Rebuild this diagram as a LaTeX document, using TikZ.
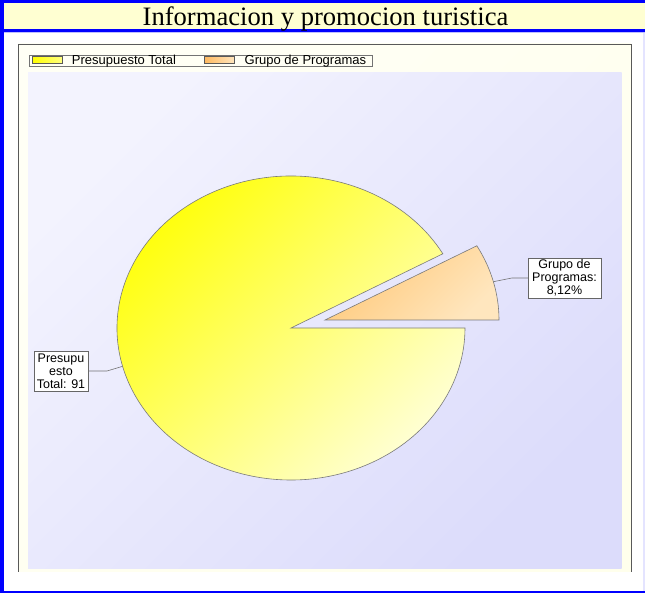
\documentclass[tikz,border=0pt]{standalone}
\usepackage{fontspec}
\usetikzlibrary{calc}
\setmainfont{Liberation Serif}
\newfontfamily\arial{Liberation Sans}
\definecolor{frameblue}{HTML}{0000FF}
\definecolor{titlebg}{HTML}{FFFFD2}
\definecolor{panelbg}{HTML}{FFFFEC}
\definecolor{plotA}{HTML}{F3F3FE}
\definecolor{plotB}{HTML}{DCDCFB}
\definecolor{yelA}{HTML}{FFFF00}
\definecolor{yelB}{HTML}{FFFFD6}
\definecolor{orA}{HTML}{FFC878}
\definecolor{orB}{HTML}{FFE6BE}
\definecolor{edge}{HTML}{7A7A7A}
\definecolor{rightedge}{HTML}{E4E4FF}
\begin{document}
\begin{tikzpicture}[x=1pt,y=1pt,
  slice/.style={draw=edge, line width=0.6pt, shading=axis},
  lbl/.style={draw=black!60, fill=white, align=center, inner sep=0pt, line width=0.5pt,
              font=\arial\fontsize{12.5}{13}\selectfont},
  leg/.style={anchor=west, inner sep=0pt, font=\arial\fontsize{13}{13}\selectfont},
  swatch/.style={draw=black!65, line width=0.5pt, shading=axis},
  conn/.style={draw=black!55, line width=0.6pt}
]
\useasboundingbox (0,0) rectangle (645,593);
% page
\fill[white] (0,0) rectangle (645,593);
\fill[frameblue] (0,0) rectangle (4,593);
\fill[frameblue] (0,590) rectangle (645,593);
\fill[frameblue] (0,0) rectangle (645,2.3);
\fill[rightedge] (642.5,2.3) rectangle (645,561);
% title bar
\fill[titlebg] (4,564) rectangle (645,590);
\fill[frameblue] (4,561.3) rectangle (645,564);
\fill[blue!25] (4,560.3) rectangle (645,561.3);
\node[anchor=base, inner sep=0pt, font=\fontsize{26.6}{28}\selectfont] (title) at (325.5,567) {Informacion y promocion turistica};
% panel
\shade[top color=white!50!panelbg, bottom color=panelbg, shading angle=45] (18.3,21.3) rectangle (631,549);
\draw[black!65, line width=0.6pt] (18.3,21.3) -- (18.3,549) -- (631,549) -- (631,21.3);
% plot area
\shade[top color=plotA, bottom color=plotB, shading angle=45] (28,24) rectangle (621.7,520.3);
% legend
\draw[black!55, fill=white!40!panelbg, line width=0.5pt] (29,526.3) rectangle (372,538);
\path[swatch, left color=yelA, right color=yelB!60!yelA] (32.3,529.7) rectangle (62.3,536.3);
\node[leg] (leg1) at (71.7,532.3) {Presupuesto Total};
\path[swatch, left color=orA!80!orange, right color=orB] (204.5,529.7) rectangle (234.5,536.3);
\node[leg] (leg2) at (244.5,532.3) {Grupo de Programas};
% pie
\coordinate (yc) at (291,265);
\coordinate (oc) at (325,273);
\path[slice, top color=yelA, bottom color=yelB, shading angle=45]
  (yc) -- ++(29.23:174 and 152) arc[start angle=29.23, end angle=360, x radius=174, y radius=152] -- cycle;
\path[slice, top color=orA, bottom color=orB, shading angle=45]
  (oc) -- ++(0:174 and 152) arc[start angle=0, end angle=29.23, x radius=174, y radius=152] -- cycle;
% labels
\coordinate (ye) at ($(yc)+(194.6:174 and 152)$);
\coordinate (oe) at ($(oc)+(14.6:174 and 152)$);
\node[lbl, minimum width=54, minimum height=40] (ylab) at (61,222) {Presupu\\esto\\Total: 91};
\node[lbl, minimum width=73, minimum height=40] (olab) at (564.5,315) {Grupo de\\Programas:\\8,12\%};
\coordinate (yk) at (107,222);
\coordinate (ok) at (512,315);
\draw[conn] (ye) -- (yk) -- (ylab.east);
\draw[conn] (oe) -- (ok) -- (olab.west);
\end{tikzpicture}
\end{document}
